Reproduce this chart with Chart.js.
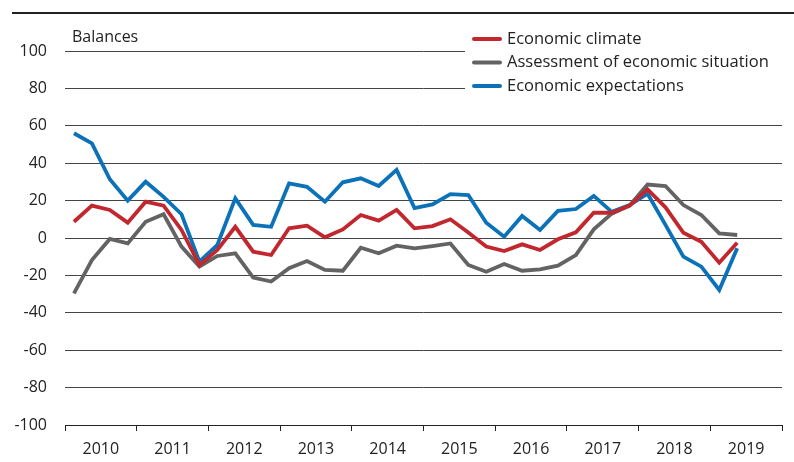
<!DOCTYPE html>
<html>
<head>
<meta charset="utf-8">
<script src="https://cdn.jsdelivr.net/npm/chart.js@4.4.1/dist/chart.umd.min.js"></script>
<style>
  html, body { margin: 0; padding: 0; background: #fff; }
</style>
</head>
<body>
<canvas id="myChart" width="794" height="462"></canvas>
<script>
// quarterly balances, 2010 Q1 - 2019 Q2
let years = ['2010', '2011', '2012', '2013', '2014', '2015', '2016', '2017', '2018', '2019'];
let seriesNames = ['Economic climate', 'Assessment of economic situation', 'Economic expectations'];
let colorHex = ['#c1272d', '#636363', '#0b72b9'];

let climate = [8.7, 17.3, 15, 8.2, 19.4, 17.3, 4.3, -14.4, -6.4, 6,
  -7.3, -9.1, 5.2, 6.6, 0.4, 4.6, 12.3, 9.3, 15, 5.2,
  6.4, 10, 3, -4.6, -7, -3.4, -6.4, -0.7, 3, 13.5,
  13.5, 17.3, 26, 16.4, 2.8, -2, -13.2, -2.5];
let assessment = [-29.6, -11.8, -0.5, -2.9, 8.7, 12.7, -4.6, -15.3, -9.6, -8.2,
  -21.2, -23.3, -16.2, -12.3, -17.1, -17.5, -5.2, -8.2, -4.1, -5.5,
  -4.3, -2.9, -14.4, -18, -13.9, -17.5, -16.8, -14.8, -9.1, 4.6,
  13, 17.4, 28.6, 27.8, 17.6, 12.3, 2.5, 1.6];
let expectations = [56, 50.6, 31.4, 20, 30.1, 22, 12.7, -12.7, -3.7, 21.2,
  7, 6, 29.2, 27.4, 19.4, 29.8, 31.9, 27.8, 36.4, 16,
  18, 23.5, 23, 8.2, 0.7, 11.8, 4.3, 14.5, 15.5, 22.5,
  14, 17.6, 23.7, 7, -10, -15.3, -27.8, -5.5];

const FONT = '"Open Sans", sans-serif';

// points sit in the middle of each quarter
function toPoints(arr) {
  return arr.map((v, i) => ({ x: i + 0.5, y: v }));
}

let decor = {
  id: 'decor',
  afterDraw(chart) {
    const c = chart.ctx;
    c.save();
    // top rule
    c.strokeStyle = '#222';
    c.lineWidth = 2;
    c.beginPath();
    c.moveTo(12, 13);
    c.lineTo(794, 13);
    c.stroke();
    // unit label
    c.fillStyle = '#222';
    c.font = '16px ' + FONT;
    c.textBaseline = 'middle';
    c.textAlign = 'left';
    c.fillText('Balances', 72, 37);
    // legend
    c.fillStyle = '#fff';
    c.fillRect(465, 20, 329, 77);
    c.font = '16.5px ' + FONT;
    chart.data.datasets.forEach((ds, i) => {
      const y = 39 + i * 23.5;
      c.strokeStyle = ds.borderColor;
      c.lineWidth = 4;
      c.lineCap = 'round';
      c.beginPath();
      c.moveTo(474, y);
      c.lineTo(500, y);
      c.stroke();
      c.fillStyle = '#222';
      c.fillText(ds.label, 507, y);
    });
    c.restore();
  }
};

let ctx = document.getElementById('myChart').getContext('2d');
let myChart = new Chart(ctx, {
  type: 'line',
  data: {
    datasets: [climate, assessment, expectations].map((arr, i) => ({
      label: seriesNames[i],
      data: toPoints(arr),
      borderColor: colorHex[i],
      backgroundColor: colorHex[i],
      borderWidth: 3.8,
      pointRadius: 0,
      tension: 0,
      fill: false
    }))
  },
  options: {
    responsive: false,
    animation: false,
    layout: { padding: { top: 51, right: 12, bottom: 2, left: 0 } },
    plugins: {
      legend: { display: false },
      tooltip: { enabled: false }
    },
    scales: {
      x: {
        type: 'linear',
        min: 0,
        max: 40,
        ticks: {
          stepSize: 2,
          autoSkip: false,
          maxRotation: 0,
          padding: 9,
          color: '#222',
          font: { family: FONT, size: 16 },
          callback: (v) => (v % 4 === 2 ? years[(v - 2) / 4] : '')
        },
        grid: {
          drawOnChartArea: false,
          tickLength: 6,
          tickColor: (c) => (c.tick && c.tick.value % 4 === 0 ? '#222' : 'rgba(0,0,0,0)')
        },
        border: { color: '#222', width: 1 },
        afterFit: (s) => { s.height = 35; }
      },
      y: {
        min: -100,
        max: 100,
        ticks: {
          stepSize: 20,
          padding: 18,
          color: '#222',
          font: { family: FONT, size: 16 }
        },
        grid: { color: '#444', lineWidth: 1, drawTicks: false },
        border: { display: false },
        afterFit: (s) => { s.width = 65; }
      }
    }
  },
  plugins: [decor]
});
</script>
</body>
</html>
